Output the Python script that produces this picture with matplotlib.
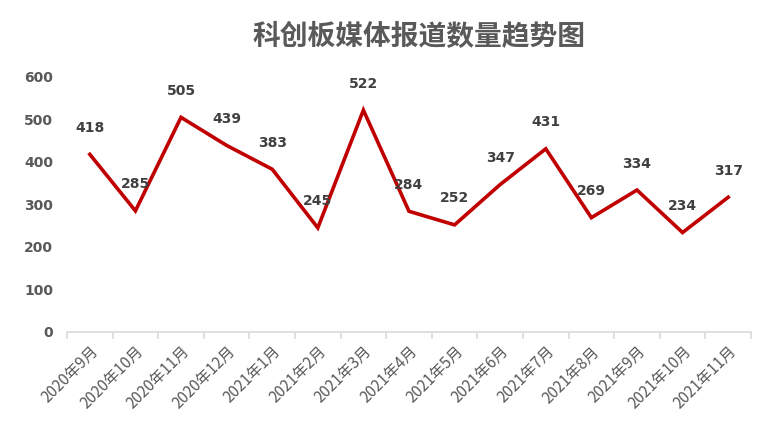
import matplotlib
matplotlib.use("Agg")
import matplotlib.pyplot as plt
import numpy as np

plt.rcParams["font.family"] = ["Noto Sans CJK SC", "DejaVu Sans"]

months = [
    "2020年9月", "2020年10月", "2020年11月", "2020年12月",
    "2021年1月", "2021年2月", "2021年3月", "2021年4月",
    "2021年5月", "2021年6月", "2021年7月", "2021年8月",
    "2021年9月", "2021年10月", "2021年11月",
]
counts = [418, 285, 505, 439, 383, 245, 522, 284, 252, 347, 431, 269, 334, 234, 317]
y_ticks = [0, 100, 200, 300, 400, 500, 600]

fig = plt.figure(figsize=(7.73, 4.44), dpi=100)
ax = fig.add_axes([0.0867, 0.2523, 0.8848, 0.5743])

x = np.arange(len(months))
ax.plot(x, counts, color="#C00000", linewidth=2.6, solid_joinstyle="miter")

for xi, v in zip(x, counts):
    ax.annotate(f"{v}", (xi, v), xytext=(0, 19), textcoords="offset points",
                ha="center", va="center", fontsize=10, fontweight="bold",
                color="#404040", family=["DejaVu Sans"])

ax.set_xlim(-0.5, len(months) - 0.5)
ax.set_ylim(0, 600)
ax.set_yticks(y_ticks)
ax.set_yticklabels([str(t) for t in y_ticks], fontsize=10, fontweight="bold",
                   color="#595959", family=["DejaVu Sans"])
ax.tick_params(axis="y", length=0, pad=10)

ax.set_xticks(x)
ax.set_xticklabels(months, rotation=45, ha="right", rotation_mode="anchor",
                   fontsize=11, color="#595959")
ax.tick_params(axis="x", which="major", length=0, pad=8)
ax.set_xticks(np.arange(-0.5, len(months)), minor=True)
ax.tick_params(axis="x", which="minor", length=5, color="#D9D9D9", width=1.2)

for side in ("top", "right", "left"):
    ax.spines[side].set_visible(False)
ax.spines["bottom"].set_color("#D9D9D9")
ax.spines["bottom"].set_linewidth(1.2)

fig.text(0.542, 0.917, "科创板媒体报道数量趋势图", ha="center", va="center",
         fontsize=20, fontweight="bold", color="#595959")

fig.savefig("out.png", dpi=100)
